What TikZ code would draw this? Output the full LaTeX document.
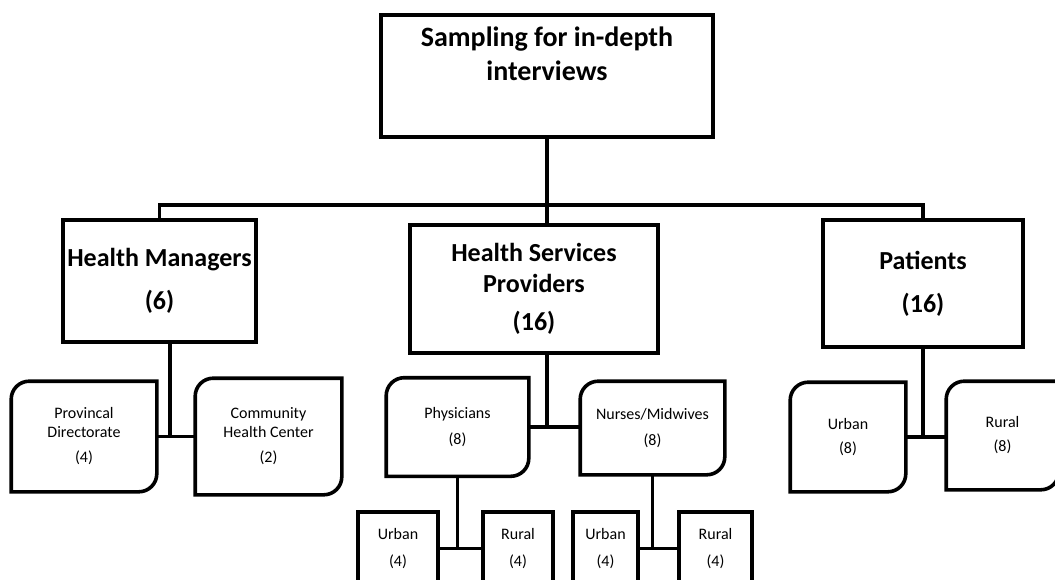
\documentclass[tikz,border=0pt]{standalone}
\usepackage{fontspec}
\setmainfont{Carlito}
\usepackage{tikz}

\begin{document}
\begin{tikzpicture}[x=1pt,y=-1pt,line width=3.6pt]
\tikzset{bigbox/.style={rectangle,draw,align=center,inner sep=0pt,font=\bfseries\fontsize{26}{31}\selectfont},
leafbox/.style={rectangle,align=center,inner sep=0pt,font=\fontsize{16}{19}\selectfont},
subbox/.style={rectangle,draw,align=center,inner sep=0pt,minimum height=73pt,font=\fontsize{16}{19}\selectfont}}
\useasboundingbox (0,0) rectangle (1055,579);
\clip (0,0) rectangle (1055,579);
\node[bigbox,minimum width=332pt,minimum height=122pt] (samp) at (547,76)
  {\parbox[c][118pt][t]{320pt}{\centering\fontsize{28}{34}\selectfont\vspace*{10pt}Sampling for in-depth\\interviews}};
\node[bigbox,minimum width=193pt,minimum height=122pt] (hm) at (159.5,281) {Health Managers\\[12pt](6)};
\node[bigbox,minimum width=248pt,minimum height=128pt] (hsp) at (534,289) {Health Services\\Providers\\[7pt](16)};
\node[bigbox,minimum width=200pt,minimum height=127pt] (pat) at (923,283.5) {Patients\\[12pt](16)};
\node[leafbox,minimum width=142pt,minimum height=107pt] (prov) at (84,436.5) {Provincal\\Directorate\\[6pt](4)};
\node[leafbox,minimum width=143pt,minimum height=113pt] (comm) at (268.5,436.5) {Community\\Health Center\\[6pt](2)};
\node[leafbox,minimum width=139pt,minimum height=95pt] (phys) at (457.5,427) {Physicians\\[7pt](8)};
\node[leafbox,minimum width=141pt,minimum height=90pt] (nurs) at (652.5,428) {Nurses/Midwives\\[7pt](8)};
\node[leafbox,minimum width=112pt,minimum height=106pt] (purb) at (848,437) {Urban\\[5pt](8)};
\node[leafbox,minimum width=109pt,minimum height=105pt] (prur) at (1002.5,435.5) {Rural\\[5pt](8)};
\node[subbox,minimum width=80pt] (urbA) at (398,548.5) {Urban\\[8pt](4)};
\node[subbox,minimum width=70pt] (rurA) at (518,548.5) {Rural\\[8pt](4)};
\node[subbox,minimum width=65pt] (urbB) at (605.5,548.5) {Urban\\[8pt](4)};
\node[subbox,minimum width=73pt] (rurB) at (715.5,548.5) {Rural\\[8pt](4)};
\foreach \n in {prov,comm,phys,nurs,purb,prur}
  \draw (\n.south west) -- ([yshift=-18pt]\n.north west) arc[start angle=180,end angle=90,radius=18pt]
    -- (\n.north east) -- ([yshift=18pt]\n.south east) arc[start angle=0,end angle=-90,radius=18pt] -- cycle;
\coordinate (bus) at (548,205);
\coordinate (hmj) at (170,437);
\draw (hm.north) |- (bus) -| (pat.north);
\draw (samp.south) -- (samp.south |- hsp.north);
\draw (hmj |- hm.south) -- (hmj);
\draw (prov.east) -- (prov.east -| comm.west);
\draw (samp.south |- hsp.south) -- (samp.south |- phys.east);
\draw (phys.east) -- (phys.east -| nurs.west);
\draw (phys.south) -- (phys.south |- urbA.east);
\draw (urbA.east) -- (rurA.west);
\draw (nurs.south) -- (nurs.south |- urbB.east);
\draw (urbB.east) -- (rurB.west);
\draw (pat.south) -- (pat.south |- purb.east);
\draw (purb.east) -- (purb.east -| prur.west);
\end{tikzpicture}
\end{document}
